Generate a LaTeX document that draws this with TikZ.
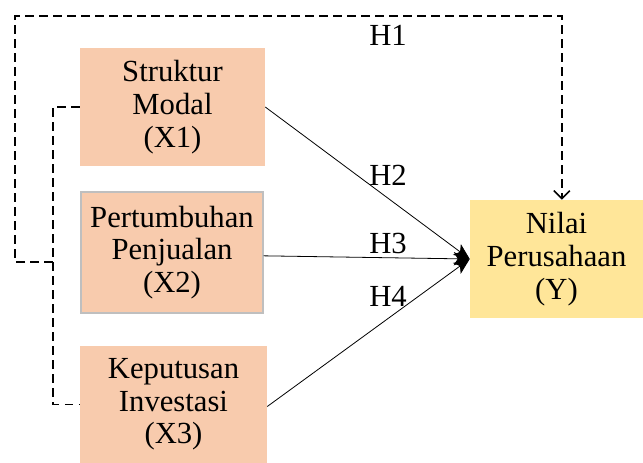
\documentclass[tikz,border=0pt]{standalone}
\usepackage{fontspec}
\setmainfont{Liberation Serif}
\usetikzlibrary{positioning}
\usetikzlibrary{arrows.meta}
\definecolor{peach}{HTML}{F8CBAD}
\definecolor{sand}{HTML}{FFE699}
\definecolor{rim}{HTML}{BFBFBF}
\tikzset{
  varbox/.style = {align=center, inner sep=0pt, text centered,
    font=\fontsize{23}{24.5}\selectfont},
  var_x/.style = {varbox, fill=peach},% variabel bebas
  var_y/.style = {varbox, fill=sand},% variabel terikat
  hyp/.style = {inner sep=0pt, font=\fontsize{23}{24.5}\selectfont},
  dashline/.style = {line width=1.4pt, dash pattern=on 6.5pt off 4pt},
}

\begin{document}
\begin{tikzpicture}[x=0.75pt,y=-0.75pt,>={Stealth[length=12pt,width=10pt,inset=3pt]}]
\useasboundingbox (0,0) rectangle (643,463);
\node [var_x, minimum width=138.75pt, minimum height=88.5pt] (X1) at (172.5,107) {Struktur\\Modal\\(X1)};
\node [var_x, draw=rim, line width=1pt, minimum width=136.5pt, minimum height=90.75pt] (X2) at (172,252.5) {Pertumbuhan\\Penjualan\\(X2)};
\node [var_x, minimum width=140.25pt, minimum height=87.75pt] (X3) at (173.5,404.5) {Keputusan\\Investasi\\(X3)};
\node [var_y, minimum width=129.75pt, minimum height=88.5pt] (Y) at (556.5,259) {Nilai\\Perusahaan\\(Y)};
\coordinate (mid) at (53,262);
\coordinate (corner) at (15,16);
\draw[dashline] (X1.west) -- (X1.west -| mid) |- (X3.west);
\draw[dashline,-{Straight Barb[length=6pt,width=12pt,line width=1.2pt]}] (mid) -- (mid -| corner) -- (corner) -| ([xshift=4pt]Y.north);
\draw[->,line width=0.6pt] (X1.east) -- (Y.west);
\draw[->,line width=0.6pt] ([yshift=-2.5pt]X2.east) -- (Y.west);
\draw[->,line width=0.6pt] ([yshift=-1.5pt]X3.east) -- (Y.west);
\node [hyp] (H1) at (388,35) {H1};
\node [hyp] (H2) at (388,175) {H2};
\node [hyp] (H3) at (388,243) {H3};
\node [hyp] (H4) at (388,296) {H4};
\end{tikzpicture}
\end{document}
